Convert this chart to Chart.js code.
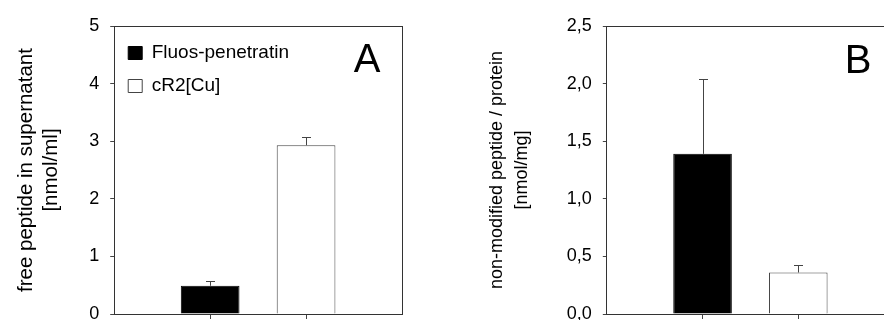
<!DOCTYPE html>
<html><head><meta charset="utf-8">
<script src="https://cdn.jsdelivr.net/npm/chart.js@4.4.1/dist/chart.umd.min.js"></script>
<style>
html,body{margin:0;padding:0;background:#fff;overflow:hidden;width:884px;height:320px;}
#wa{position:absolute;left:0;top:0;width:442px;height:340px;}
#wb{position:absolute;left:442px;top:0;width:470px;height:340px;}
</style></head><body>
<div id="wa"><canvas id="ca"></canvas></div>
<div id="wb"><canvas id="cb"></canvas></div>
<script>
// ---- data ----
const categories = ['', 'Fluos-penetratin', 'cR2[Cu]', ''];
const seriesNames = ['Fluos-penetratin', 'cR2[Cu]'];
const freePeptide = [0.49, 2.93];
const freePeptideErr = [0.09, 0.135];
const nonModified = [1.39, 0.36];
const nonModifiedErr = [0.65, 0.065];
const ticksA = ['0', '1', '2', '3', '4', '5'];
const ticksB = ['0,0', '0,5', '1,0', '1,5', '2,0', '2,5'];
const titleA = ['free peptide in supernatant', '[nmol/ml]'];
const titleB = ['non-modified peptide / protein', '[nmol/mg]'];
const panelLetters = ['A', 'B'];

const FONT = '"Liberation Sans", Arial, sans-serif';
const AXIS = '#333';
const LAST = categories.length - 1;

const errorBarPlugin = {
  id: 'errorBars',
  afterDatasetsDraw(chart) {
    const ctx = chart.ctx, yScale = chart.scales.y;
    chart.data.datasets.forEach((ds, di) => {
      const meta = chart.getDatasetMeta(di);
      meta.data.forEach((bar, i) => {
        const v = ds.data[i], e = ds.errors ? ds.errors[i] : null;
        if (v == null || e == null) return;
        const y0 = yScale.getPixelForValue(v);
        const y1 = Math.round(yScale.getPixelForValue(v + e)) + 0.5;
        const x = Math.round(bar.x) + 0.5;
        ctx.save();
        ctx.strokeStyle = '#444';
        ctx.lineWidth = 1;
        ctx.beginPath();
        ctx.moveTo(x, y0); ctx.lineTo(x, y1);
        ctx.moveTo(x - 4.5, y1); ctx.lineTo(x + 4.5, y1);
        ctx.stroke();
        ctx.restore();
      });
    });
  }
};

const letterPlugin = {
  id: 'panelLetter',
  afterDraw(chart, args, opts) {
    const {ctx, chartArea} = chart;
    ctx.save();
    ctx.font = '40px ' + FONT;
    ctx.fillStyle = '#000';
    ctx.textAlign = 'center';
    ctx.textBaseline = 'middle';
    ctx.fillText(opts.text, chartArea.right - opts.dx, chartArea.top + opts.dy);
    ctx.restore();
  }
};

function makeChart(id, values, errs, tickLabels, yMax, step, title, titleSize, titleLH, titlePad, letter, letterPos, padding, showLegend) {
  const idx = [1, 2];
  const datasets = seriesNames.map((name, s) => {
    const data = categories.map(() => null);
    const errors = categories.map(() => null);
    data[idx[s]] = values[s];
    errors[idx[s]] = errs[s];
    return {
      label: name,
      data, errors,
      backgroundColor: s === 0 ? '#000' : '#fff',
      borderColor: s === 0 ? '#000' : '#444',
      borderWidth: 1,
      grouped: false,
      barPercentage: 0.612,
      categoryPercentage: 1
    };
  });
  return new Chart(document.getElementById(id), {
    type: 'bar',
    data: {labels: categories, datasets},
    plugins: [errorBarPlugin, letterPlugin],
    options: {
      responsive: true,
      maintainAspectRatio: false,
      animation: false,
      layout: {padding},
      scales: {
        x: {
          type: 'category', position: 'bottom', offset: false,
          ticks: {display: false},
          grid: {offset: false, drawOnChartArea: false, tickLength: 5,
                 color: c => (c.index === 0 || c.index === LAST) ? 'rgba(0,0,0,0)' : '#444'},
          border: {display: true, color: AXIS, width: 1}
        },
        xTop: {
          type: 'category', position: 'top', offset: false, labels: categories,
          ticks: {display: false},
          grid: {display: true, drawTicks: false, drawOnChartArea: true, offset: false,
                 color: c => c.index === LAST ? AXIS : 'rgba(0,0,0,0)'},
          border: {display: true, color: AXIS, width: 1}
        },
        y: {
          type: 'linear', position: 'left', min: 0, max: yMax,
          ticks: {stepSize: step, padding: 11, color: '#000', font: {family: FONT, size: 18},
                  callback: (v) => tickLabels[Math.round(v / step)]},
          grid: {drawOnChartArea: false, tickLength: 4, color: '#444'},
          border: {display: true, color: AXIS, width: 1},
          title: {display: true, text: title, color: '#000',
                  font: {family: FONT, size: titleSize, lineHeight: titleLH}, padding: titlePad}
        }
      },
      plugins: {
        tooltip: {enabled: false},
        panelLetter: {text: letter, dx: letterPos[0], dy: letterPos[1]},
        legend: {
          display: showLegend,
          position: 'chartArea',
          align: 'start',
          title: {display: true, text: '', padding: {top: 19.5, bottom: 0}, font: {size: 10, lineHeight: 1}},
          labels: {color: '#000', font: {family: FONT, size: 19}, boxWidth: 14, boxHeight: 13,
                   padding: 14, textAlign: 'left'}
        }
      }
    }
  });
}

makeChart('ca', freePeptide, freePeptideErr, ticksA, 5, 1, titleA, 20.5, 1.2, {top: 4, bottom: 15},
          panelLetters[0], [35, 35], {left: 10, right: 40, top: 26, bottom: 21}, true);
makeChart('cb', nonModified, nonModifiedErr, ticksB, 2.5, 0.5, titleB, 18, 1.4, {top: 4.4, bottom: 21},
          panelLetters[1], [36, 36], {left: 38, right: 18, top: 26, bottom: 21}, false);
</script>
</body></html>
